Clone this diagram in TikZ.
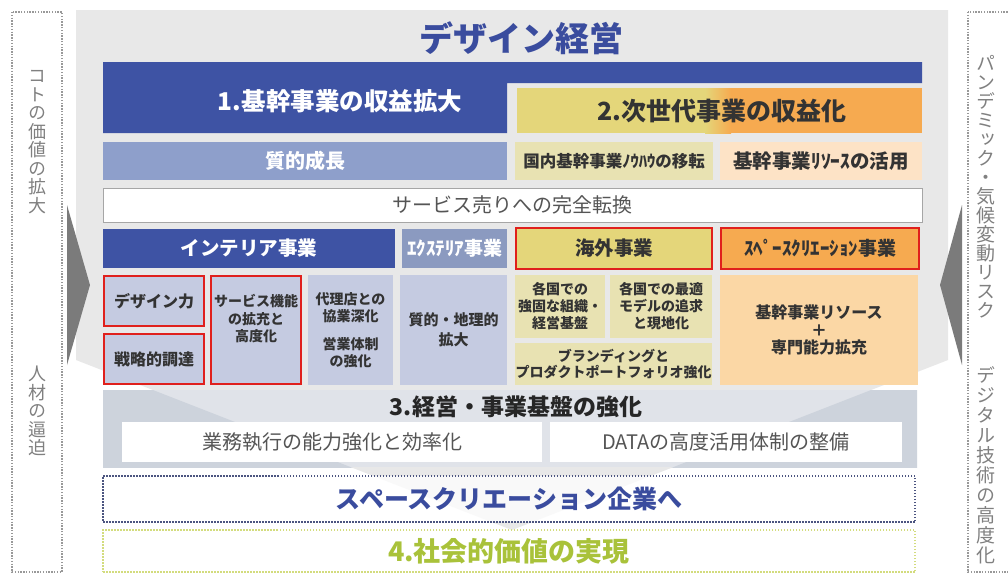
\documentclass[tikz,border=0pt]{standalone}
\usepackage{fontspec}
\setmainfont{Noto Sans CJK JP}
\newfontfamily\vjp[RawFeature=+vert]{Noto Sans CJK JP}
\newcommand\fsz[2]{\fontsize{#1}{#2}\selectfont}
\newcommand\cellbox[7]{%
  \pgfmathsetmacro\cbx{(#2+#4)/2}\pgfmathsetmacro\cby{(#3+#5)/2}%
  \pgfmathsetmacro\cbw{#4-#2}\pgfmathsetmacro\cbh{#5-#3}%
  \node[base,#6,minimum width=\cbw pt,minimum height=\cbh pt] (#1) at (\cbx,\cby) {#7};}
\definecolor{panel}{HTML}{E8E8E8}
\definecolor{blueD}{HTML}{3E53A4}
\definecolor{titleblue}{HTML}{3A4C9E}
\definecolor{steel}{HTML}{8E9FCB}
\definecolor{ext}{HTML}{8B9AC0}
\definecolor{lblue}{HTML}{C5CBE1}
\definecolor{yel}{HTML}{E4D67A}
\definecolor{org}{HTML}{F6AA50}
\definecolor{pyel}{HTML}{E8E2B2}
\definecolor{porg}{HTML}{FDE3C6}
\definecolor{porgB}{HTML}{FBD7A5}
\definecolor{redc}{HTML}{E0201C}
\definecolor{bandL}{HTML}{E0E3E9}
\definecolor{bandD}{HTML}{CDD3DC}
\definecolor{txt}{HTML}{333333}
\definecolor{gtxt}{HTML}{555555}
\definecolor{vgrey}{HTML}{808080}
\definecolor{grn}{HTML}{A9C23A}
\definecolor{grnd}{HTML}{D3DC7E}
\definecolor{navyd}{HTML}{4C5580}
\definecolor{trig}{HTML}{7B7B7B}
\begin{document}
\begin{tikzpicture}[x=1pt,y=-1pt,
  base/.style={inner sep=0pt, outer sep=0pt, align=center, text=txt},
  redb/.style={draw=redc, line width=2.5pt},
  sidebox/.style={draw=vgrey!80, line width=1.6pt, dash pattern=on 1.4pt off 1.4pt},
  vtext/.style={inner sep=0pt, align=center, text=vgrey, font=\vjp\fsz{18}{18.5}},
  dotbox/.style={line width=1.8pt, dash pattern=on 1.5pt off 1.5pt, fill=white, fill opacity=0.75, text opacity=1}]
\clip (0,0) rectangle (1008,574);
\fill[white] (0,0) rectangle (1008,574);
% side boxes
\draw[sidebox] (12,12) rectangle (62,572);
\draw[sidebox] (968,12) rectangle (1020,572);
\node[vtext] (l1) at (37,142) {コ\\ト\\の\\価\\値\\の\\拡\\大};
\node[vtext] (l2) at (37,411) {人\\材\\の\\逼\\迫};
\node[vtext, font=\vjp\fsz{19}{19}] (r1) at (986,187) {パ\\ン\\デ\\ミ\\ッ\\ク\\・\\気\\候\\変\\動\\リ\\ス\\ク};
\node[vtext, font=\vjp\fsz{19}{20}] (r2) at (986,465) {デ\\ジ\\タ\\ル\\技\\術\\の\\高\\度\\化};
% panel
\fill[panel] (76,10) -- (948,10) -- (948,360) -- (512,530) -- (76,360) -- cycle;
\fill[trig] (67,205) -- (90,285) -- (67,365) -- cycle;
\fill[trig] (962,205) -- (940,285) -- (962,365) -- cycle;
% title
\node[base, text=titleblue, font=\fsz{34}{38}\bfseries] (title) at (521,38) {デザイン経営};
% 1.
\fill[blueD] (103,62) -- (922,62) -- (922,83) -- (507,83) -- (507,133) -- (103,133) -- cycle;
\node[base, text=white, font=\fsz{24.5}{28}\bfseries] (t1) at (340,101) {1.基幹事業の収益拡大};
% 2.
\fill[yel] (517,88) rectangle (705,133);
\shade[left color=yel, right color=org] (705,88) rectangle (731,133);
\fill[org] (731,88) rectangle (922,133);
\node[base, text=txt, font=\fsz{25}{28}\bfseries] (t2) at (722,111) {2.次世代事業の収益化};
% row 2
\cellbox{q}{103}{142}{507}{180}{fill=steel, text=white, font=\fsz{20}{24}\bfseries}{質的成長}
\cellbox{kn}{515}{142}{713}{180}{fill=pyel, font=\fsz{16.5}{20}\bfseries}{国内基幹事業ﾉｳﾊｳの移転}
\cellbox{kr}{720}{142}{922}{180}{fill=porg, font=\fsz{19.5}{22}\bfseries}{基幹事業ﾘｿｰｽの活用}
% row 3
\cellbox{sb}{103}{188}{922}{222}{fill=white, draw=gray!70, line width=0.8pt, text=gtxt, font=\fsz{20}{24}}{サービス売りへの完全転換}
% row 4 headers
\cellbox{hi}{103}{229}{395}{268}{fill=blueD, text=white, font=\fsz{19.5}{22}\bfseries}{インテリア事業}
\cellbox{he}{402}{229}{507}{268}{fill=ext, text=white, font=\fsz{19}{22}\bfseries}{ｴｸｽﾃﾘｱ事業}
\cellbox{hk}{516}{228}{712}{269}{redb, fill=yel, font=\fsz{19.5}{22}\bfseries}{海外事業}
\cellbox{hs}{721}{228}{919}{269}{redb, fill=org, font=\fsz{19}{22}\bfseries}{ｽﾍﾟｰｽｸﾘｴｰｼｮﾝ事業}
% row 5 left
\cellbox{dz}{104}{276}{204}{326}{redb, fill=lblue, font=\fsz{16}{19}\bfseries}{デザイン力}
\cellbox{sr}{104}{334}{204}{384}{redb, fill=lblue, font=\fsz{16}{19}\bfseries}{戦略的調達}
\cellbox{sv}{211}{276}{301}{384}{redb, fill=lblue, font=\fsz{14}{17.5}\bfseries}{サービス機能\\の拡充と\\高度化\\[6pt]}
\cellbox{dr}{308}{275}{393}{385}{fill=lblue, font=\fsz{14}{16.5}\bfseries}{代理店との\\協業深化\\[12pt]営業体制\\の強化}
\cellbox{qc}{400}{275}{507}{385}{fill=lblue, font=\fsz{15}{20}\bfseries}{質的・地理的\\拡大}
% row 5 right
\cellbox{k1}{515}{275}{605}{338}{fill=pyel, font=\fsz{14}{17}\bfseries}{各国での\\強固な組織・\\経営基盤}
\cellbox{k2}{610}{275}{712}{338}{fill=pyel, font=\fsz{14}{17}\bfseries}{各国での最適\\モデルの追求\\と現地化}
\cellbox{br}{515}{343}{712}{385}{fill=pyel, font=\fsz{14}{16.5}\bfseries}{ブランディングと\\プロダクトポートフォリオ強化}
\cellbox{rs}{720}{275}{918}{385}{fill=porgB, font=\fsz{16}{17.5}\bfseries}{基幹事業リソース\\＋\\専門能力拡充}
% 3. band
\fill[bandL] (103,390) rectangle (917,467);
\begin{scope}
\clip (103,390) rectangle (917,467);
\fill[bandD] (76,360) -- (512,530) -- (948,360) -- (948,600) -- (76,600) -- cycle;
\end{scope}
\node[base, text=black!85, font=\fsz{23}{26}\bfseries] (t3) at (516,407) {3.経営・事業基盤の強化};
\cellbox{w1}{122}{422}{542}{462}{fill=white, text=gtxt, font=\fsz{20}{24}}{業務執行の能力強化と効率化}
\cellbox{w2}{550}{422}{902}{462}{fill=white, text=gtxt, font=\fsz{20}{24}}{DATAの高度活用体制の整備}
% bottom dotted boxes
\cellbox{d1}{103}{476}{915}{522}{dotbox, draw=navyd, text=titleblue, font=\fsz{25}{28}\bfseries}{スペースクリエーション企業へ}
\cellbox{d2}{103}{530}{915}{572}{dotbox, draw=grnd, fill opacity=1, text=grn, font=\fsz{27}{30}\bfseries}{4.社会的価値の実現}
\end{tikzpicture}
\end{document}
